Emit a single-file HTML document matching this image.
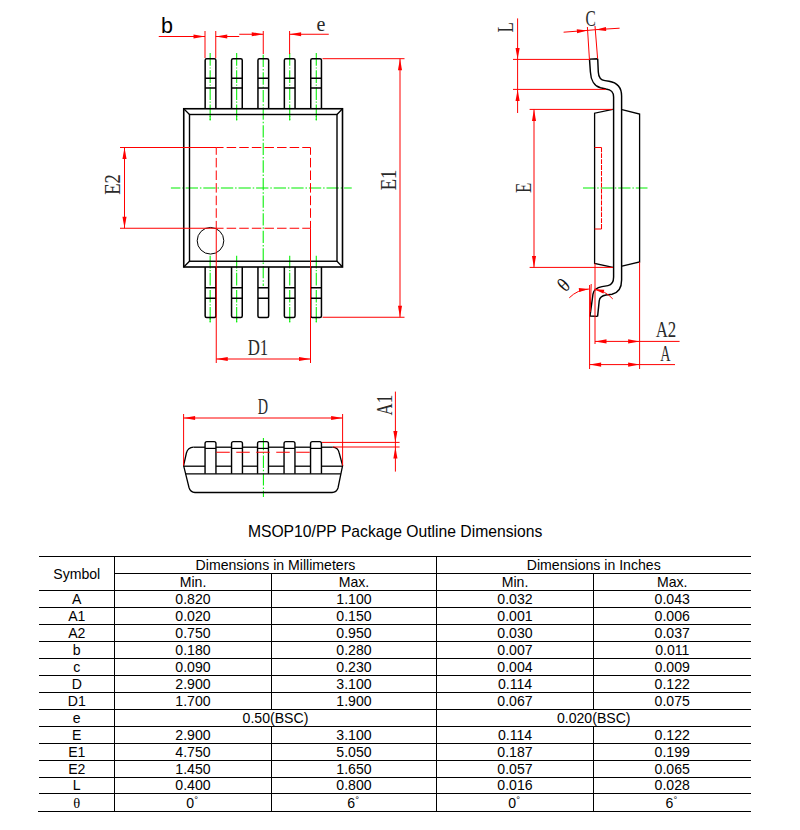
<!DOCTYPE html>
<html><head><meta charset="utf-8"><title>MSOP10/PP Package Outline Dimensions</title>
<style>
html,body{margin:0;padding:0;background:#fff;}
svg{display:block}
.sans{font-family:"Liberation Sans",Arial,sans-serif;fill:#000}
.ser{font-family:"Liberation Serif","Times New Roman",serif;fill:#000}
.cad{font-family:"Liberation Serif","Times New Roman",serif;fill:#2a2a2a}
</style></head><body>
<svg width="800" height="830" viewBox="0 0 800 830">
<rect width="800" height="830" fill="#fff"/>
<g id="topview" fill="none">
<line x1="210.15" y1="53.1" x2="210.15" y2="120.5" stroke="#00ee00" stroke-width="1.05" stroke-dasharray="12.7 1.6 1.2 1.6"/>
<line x1="210.15" y1="116" x2="210.15" y2="120.5" stroke="#00ee00" stroke-width="1.05"/>
<line x1="210.15" y1="255.7" x2="210.15" y2="322.3" stroke="#00ee00" stroke-width="1.05" stroke-dasharray="12.7 1.6 1.2 1.6"/>
<line x1="210.15" y1="318" x2="210.15" y2="322.3" stroke="#00ee00" stroke-width="1.05"/>
<line x1="236.68" y1="53.1" x2="236.68" y2="120.5" stroke="#00ee00" stroke-width="1.05" stroke-dasharray="12.7 1.6 1.2 1.6"/>
<line x1="236.68" y1="116" x2="236.68" y2="120.5" stroke="#00ee00" stroke-width="1.05"/>
<line x1="236.68" y1="255.7" x2="236.68" y2="322.3" stroke="#00ee00" stroke-width="1.05" stroke-dasharray="12.7 1.6 1.2 1.6"/>
<line x1="236.68" y1="318" x2="236.68" y2="322.3" stroke="#00ee00" stroke-width="1.05"/>
<line x1="289.74" y1="53.1" x2="289.74" y2="120.5" stroke="#00ee00" stroke-width="1.05" stroke-dasharray="12.7 1.6 1.2 1.6"/>
<line x1="289.74" y1="116" x2="289.74" y2="120.5" stroke="#00ee00" stroke-width="1.05"/>
<line x1="289.74" y1="255.7" x2="289.74" y2="322.3" stroke="#00ee00" stroke-width="1.05" stroke-dasharray="12.7 1.6 1.2 1.6"/>
<line x1="289.74" y1="318" x2="289.74" y2="322.3" stroke="#00ee00" stroke-width="1.05"/>
<line x1="316.27" y1="53.1" x2="316.27" y2="120.5" stroke="#00ee00" stroke-width="1.05" stroke-dasharray="12.7 1.6 1.2 1.6"/>
<line x1="316.27" y1="116" x2="316.27" y2="120.5" stroke="#00ee00" stroke-width="1.05"/>
<line x1="316.27" y1="255.7" x2="316.27" y2="322.3" stroke="#00ee00" stroke-width="1.05" stroke-dasharray="12.7 1.6 1.2 1.6"/>
<line x1="316.27" y1="318" x2="316.27" y2="322.3" stroke="#00ee00" stroke-width="1.05"/>
<line x1="263.21000000000004" y1="54.75" x2="263.21000000000004" y2="286" stroke="#00ee00" stroke-width="1.05" stroke-dasharray="12.3 1.9 1.5 1.9"/>
<line x1="170.9" y1="188" x2="351.75" y2="188" stroke="#00ee00" stroke-width="1.05" stroke-dasharray="12.3 1.9 1.5 1.9" stroke-dashoffset="2.8"/>
<path d="M205.15 108.75 V60.2 Q205.15 58.75 206.65 58.75 H214.35 Q215.85 58.75 215.85 60.2 V108.75 M205.15 78.25 H215.85 M205.15 88 H215.85" stroke="#000" stroke-width="1.5"/>
<path d="M205.15 267 V316 Q205.15 317.5 206.65 317.5 H214.35 Q215.85 317.5 215.85 316 V267 M205.15 287.75 H215.85 M205.15 298.2 H215.85" stroke="#000" stroke-width="1.5"/>
<path d="M231.55 108.75 V60.2 Q231.55 58.75 233.05 58.75 H240.75 Q242.25 58.75 242.25 60.2 V108.75 M231.55 78.25 H242.25 M231.55 88 H242.25" stroke="#000" stroke-width="1.5"/>
<path d="M231.55 267 V316 Q231.55 317.5 233.05 317.5 H240.75 Q242.25 317.5 242.25 316 V267 M231.55 287.75 H242.25 M231.55 298.2 H242.25" stroke="#000" stroke-width="1.5"/>
<path d="M257.95 108.75 V60.2 Q257.95 58.75 259.45 58.75 H267.15 Q268.65 58.75 268.65 60.2 V108.75 M257.95 78.25 H268.65 M257.95 88 H268.65" stroke="#000" stroke-width="1.5"/>
<path d="M257.95 267 V316 Q257.95 317.5 259.45 317.5 H267.15 Q268.65 317.5 268.65 316 V267 M257.95 287.75 H268.65 M257.95 298.2 H268.65" stroke="#000" stroke-width="1.5"/>
<path d="M284.35 108.75 V60.2 Q284.35 58.75 285.85 58.75 H293.55 Q295.05 58.75 295.05 60.2 V108.75 M284.35 78.25 H295.05 M284.35 88 H295.05" stroke="#000" stroke-width="1.5"/>
<path d="M284.35 267 V316 Q284.35 317.5 285.85 317.5 H293.55 Q295.05 317.5 295.05 316 V267 M284.35 287.75 H295.05 M284.35 298.2 H295.05" stroke="#000" stroke-width="1.5"/>
<path d="M310.75 108.75 V60.2 Q310.75 58.75 312.25 58.75 H319.95 Q321.45 58.75 321.45 60.2 V108.75 M310.75 78.25 H321.45 M310.75 88 H321.45" stroke="#000" stroke-width="1.5"/>
<path d="M310.75 267 V316 Q310.75 317.5 312.25 317.5 H319.95 Q321.45 317.5 321.45 316 V267 M310.75 287.75 H321.45 M310.75 298.2 H321.45" stroke="#000" stroke-width="1.5"/>
<rect x="183.75" y="108.75" width="158.75" height="158.25" stroke="#000" stroke-width="1.6"/>
<rect x="189.5" y="114.5" width="147.5" height="146.75" stroke="#000" stroke-width="1.4"/>
<path d="M183.75 108.75 L189.5 114.5 M342.5 108.75 L337 114.5 M183.75 267 L189.5 261.25 M342.5 267 L337 261.25" stroke="#000" stroke-width="1.3"/>
<circle cx="210.5" cy="240.75" r="13.3" stroke="#000" stroke-width="1"/>
<line x1="120" y1="147.5" x2="216.25" y2="147.5" stroke="#ff0000" stroke-width="1.0"/>
<line x1="216.25" y1="147.5" x2="310.5" y2="147.5" stroke="#ff0000" stroke-width="1" stroke-dasharray="9.5 3.1" stroke-dashoffset="2.2"/>
<line x1="120" y1="228.25" x2="216.25" y2="228.25" stroke="#ff0000" stroke-width="1.0"/>
<line x1="216.25" y1="228.25" x2="310.5" y2="228.25" stroke="#ff0000" stroke-width="1" stroke-dasharray="9.5 3.1" stroke-dashoffset="2.2"/>
<line x1="216.25" y1="147.5" x2="216.25" y2="228.25" stroke="#ff0000" stroke-width="1" stroke-dasharray="9.5 3.1" stroke-dashoffset="2.2"/>
<line x1="310.5" y1="147.5" x2="310.5" y2="228.25" stroke="#ff0000" stroke-width="1" stroke-dasharray="9.5 3.1" stroke-dashoffset="2.2"/>
<line x1="216.25" y1="228.25" x2="216.25" y2="363" stroke="#ff0000" stroke-width="1.0"/>
<line x1="310.5" y1="228.25" x2="310.5" y2="363" stroke="#ff0000" stroke-width="1.0"/>
<line x1="124.5" y1="147.5" x2="124.5" y2="228.25" stroke="#ff0000" stroke-width="1.0"/>
<polygon points="124.50,147.50 126.55,159.00 122.45,159.00" fill="#ff0000"/>
<polygon points="124.50,228.25 122.45,216.75 126.55,216.75" fill="#ff0000"/>
<line x1="216.25" y1="359" x2="310.5" y2="359" stroke="#ff0000" stroke-width="1.0"/>
<polygon points="216.25,359.00 227.75,356.95 227.75,361.05" fill="#ff0000"/>
<polygon points="310.50,359.00 299.00,361.05 299.00,356.95" fill="#ff0000"/>
<line x1="322.5" y1="58.7" x2="404.5" y2="58.7" stroke="#ff0000" stroke-width="1.0"/>
<line x1="322.5" y1="317.25" x2="404.5" y2="317.25" stroke="#ff0000" stroke-width="1.0"/>
<line x1="400" y1="58.7" x2="400" y2="317.25" stroke="#ff0000" stroke-width="1.0"/>
<polygon points="400.00,58.70 402.05,70.20 397.95,70.20" fill="#ff0000"/>
<polygon points="400.00,317.25 397.95,305.75 402.05,305.75" fill="#ff0000"/>
<line x1="205" y1="31" x2="205" y2="58" stroke="#ff0000" stroke-width="1.0"/>
<line x1="215.75" y1="31" x2="215.75" y2="58" stroke="#ff0000" stroke-width="1.0"/>
<line x1="158.75" y1="36.5" x2="205" y2="36.5" stroke="#ff0000" stroke-width="1.0"/>
<polygon points="205.00,36.50 193.50,38.55 193.50,34.45" fill="#ff0000"/>
<line x1="215.75" y1="36.5" x2="239.25" y2="36.5" stroke="#ff0000" stroke-width="1.0"/>
<polygon points="215.75,36.50 227.25,34.45 227.25,38.55" fill="#ff0000"/>
<line x1="263.25" y1="31" x2="263.25" y2="54" stroke="#ff0000" stroke-width="1.0"/>
<line x1="289.6" y1="31" x2="289.6" y2="54" stroke="#ff0000" stroke-width="1.0"/>
<line x1="239.25" y1="34.25" x2="263.25" y2="34.25" stroke="#ff0000" stroke-width="1.0"/>
<polygon points="263.25,34.25 251.75,36.30 251.75,32.20" fill="#ff0000"/>
<line x1="289.6" y1="34.25" x2="328.75" y2="34.25" stroke="#ff0000" stroke-width="1.0"/>
<polygon points="289.60,34.25 301.10,32.20 301.10,36.30" fill="#ff0000"/>
</g>
<text x="161" y="32.5" class="sans" font-size="21.5">b</text>
<text x="321" y="30.5" class="cad" font-size="20" text-anchor="middle">e</text>
<text x="120" y="184.5" class="cad" font-size="23" text-anchor="middle" textLength="20.6" lengthAdjust="spacingAndGlyphs" transform="rotate(-90 120 184.5)">E2</text>
<text x="396" y="180" class="cad" font-size="23" text-anchor="middle" textLength="20.6" lengthAdjust="spacingAndGlyphs" transform="rotate(-90 396 180)">E1</text>
<text x="258" y="355" class="cad" font-size="23" text-anchor="middle" textLength="20.6" lengthAdjust="spacingAndGlyphs">D1</text>
<g id="sideview" fill="none">
<line x1="583" y1="188" x2="647.5" y2="188" stroke="#00ee00" stroke-width="1.05" stroke-dasharray="12.3 1.9 1.5 1.9"/>
<path d="M612.8 109.4 L594.6 113.2 V263.4 L613 267.4 M622 109.6 L639.6 114 V262 L622 266.2" stroke="#000" stroke-width="1.3"/>
<path d="M589.5 59.1 L590.4 72 C590.8 80 594.5 86.3 600.5 87.8 L606 89 C611 89.8 613.6 91.5 613.6 97 V277 C613.6 283 611.5 285 608 285.6 L602 286.6 C596.5 287.6 593.6 290 593 294 L590 316 L597.6 316.4 M589.5 59.1 L597.7 58.8 M597.7 58.8 L598.3 72 C598.5 77 600.2 80 605 80.6 L609 81.2 C617 82.5 621.6 88 621.6 96 V280 C621.6 289 617.5 293 612 294.2 L606 295 C602 295.6 599.6 297.5 599.2 301 L597.6 316.4" stroke="#000" stroke-width="1.45" stroke-linejoin="round"/>
<path d="M594.6 147.4 H601.5 M594.6 229 H601.5" stroke="#ff0000" stroke-width="1.05"/>
<line x1="601.5" y1="147.4" x2="601.5" y2="229" stroke="#ff0000" stroke-width="1.05" stroke-dasharray="4.8 1.1"/>
<line x1="517.6" y1="18.4" x2="517.6" y2="113" stroke="#ff0000" stroke-width="1.0"/>
<polygon points="517.60,59.40 515.55,47.90 519.65,47.90" fill="#ff0000"/>
<polygon points="517.60,89.40 519.65,100.90 515.55,100.90" fill="#ff0000"/>
<line x1="513" y1="59.4" x2="590" y2="59.4" stroke="#ff0000" stroke-width="1.0"/>
<line x1="513" y1="89.4" x2="606" y2="89.4" stroke="#ff0000" stroke-width="1.0"/>
<line x1="529.6" y1="109.4" x2="612.5" y2="109.4" stroke="#ff0000" stroke-width="1.0"/>
<line x1="529.6" y1="267.4" x2="613" y2="267.4" stroke="#ff0000" stroke-width="1.0"/>
<line x1="534" y1="109.4" x2="534" y2="267.4" stroke="#ff0000" stroke-width="1.0"/>
<polygon points="534.00,109.40 536.05,120.90 531.95,120.90" fill="#ff0000"/>
<polygon points="534.00,267.40 531.95,255.90 536.05,255.90" fill="#ff0000"/>
<line x1="563.6" y1="32.2" x2="587.4" y2="30.4" stroke="#ff0000" stroke-width="1.0"/>
<polygon points="587.40,30.40 577.08,33.19 576.78,29.20" fill="#ff0000"/>
<line x1="595.6" y1="29.7" x2="619.6" y2="28.2" stroke="#ff0000" stroke-width="1.0"/>
<polygon points="595.60,29.70 605.94,27.01 606.21,31.00" fill="#ff0000"/>
<line x1="587.4" y1="30.4" x2="595.6" y2="29.7" stroke="#ff0000" stroke-width="1.0"/>
<line x1="587.4" y1="27" x2="589.4" y2="59" stroke="#ff0000" stroke-width="1.0"/>
<line x1="595" y1="26" x2="597.6" y2="58.5" stroke="#ff0000" stroke-width="1.0"/>
<line x1="595" y1="263.4" x2="595" y2="344" stroke="#ff0000" stroke-width="1.0"/>
<line x1="639.6" y1="262" x2="639.6" y2="369" stroke="#ff0000" stroke-width="1.0"/>
<line x1="589.6" y1="285" x2="589.6" y2="369" stroke="#ff0000" stroke-width="1.0"/>
<line x1="595" y1="341.4" x2="679.6" y2="341.4" stroke="#ff0000" stroke-width="1.0"/>
<polygon points="595.00,341.40 606.50,339.35 606.50,343.45" fill="#ff0000"/>
<polygon points="639.60,341.40 628.10,343.45 628.10,339.35" fill="#ff0000"/>
<line x1="589.6" y1="364.6" x2="675" y2="364.6" stroke="#ff0000" stroke-width="1.0"/>
<polygon points="589.60,364.60 601.10,362.55 601.10,366.65" fill="#ff0000"/>
<polygon points="639.60,364.60 628.10,366.65 628.10,362.55" fill="#ff0000"/>
<path d="M569.29 297.79 A30 30 0 0 1 588.93 289.04" stroke="#ff0000" stroke-width="1"/>
<polygon points="588.93,289.04 579.18,292.03 578.78,288.05" fill="#ff0000"/>
<path d="M594.16 289.22 A30 30 0 0 1 612.79 298.93" stroke="#ff0000" stroke-width="1"/>
<polygon points="594.16,289.22 604.34,289.71 603.37,293.59" fill="#ff0000"/>
<line x1="591.2" y1="284" x2="590.2" y2="312" stroke="#ff0000" stroke-width="1.0"/>
</g>
<text x="512.8" y="27.3" class="cad" font-size="23" text-anchor="middle" textLength="10.3" lengthAdjust="spacingAndGlyphs" transform="rotate(-90 512.8 27.3)">L</text>
<text x="590.6" y="26.4" class="cad" font-size="23" text-anchor="middle" textLength="10.3" lengthAdjust="spacingAndGlyphs">C</text>
<text x="530.5" y="187.75" class="cad" font-size="23" text-anchor="middle" textLength="10.3" lengthAdjust="spacingAndGlyphs" transform="rotate(-90 530.5 187.75)">E</text>
<text x="666" y="337.3" class="cad" font-size="23" text-anchor="middle" textLength="20.6" lengthAdjust="spacingAndGlyphs">A2</text>
<text x="665.3" y="360.7" class="cad" font-size="23" text-anchor="middle" textLength="10.3" lengthAdjust="spacingAndGlyphs">A</text>
<text x="563.5" y="291.6" class="cad" font-size="20" text-anchor="middle" textLength="8.6" lengthAdjust="spacingAndGlyphs" transform="rotate(-45 563.5 284.8)" style="fill:#111">θ</text>
<g id="botview" fill="none">
<line x1="263.4" y1="438" x2="263.4" y2="497" stroke="#00ee00" stroke-width="1.05" stroke-dasharray="12.3 1.9 1.5 1.9"/>
<path d="M332.8 447.2 C337 447.4 338.6 450 339.2 453 L342.6 465.6 L338 488 C337 491 335.5 492.4 332 492.5 H195 C191.5 492.4 190 491 189 487.5 L183.6 465.6 L186.4 453 C187.2 450 189 447.4 193.5 447.2" stroke="#000" stroke-width="1.3"/>
<line x1="185.5" y1="473.8" x2="340.8" y2="473.8" stroke="#000" stroke-width="1.3"/>
<path d="M205.05 473.8 V443.4 Q205.05 441.6 206.85 441.6 H214.15 Q215.95 441.6 215.95 443.4 V473.8" stroke="#000" stroke-width="1.4"/>
<line x1="205.05" y1="448.4" x2="215.95" y2="448.4" stroke="#000" stroke-width="1.2"/>
<line x1="193.5" y1="447.2" x2="205.05" y2="447.2" stroke="#000" stroke-width="1.3"/>
<line x1="183.6" y1="466.2" x2="205.05" y2="466.2" stroke="#000" stroke-width="1.3"/>
<path d="M231.55 473.8 V443.4 Q231.55 441.6 233.35 441.6 H240.65 Q242.45 441.6 242.45 443.4 V473.8" stroke="#000" stroke-width="1.4"/>
<line x1="231.55" y1="448.4" x2="242.45" y2="448.4" stroke="#000" stroke-width="1.2"/>
<line x1="215.95" y1="447.2" x2="231.55" y2="447.2" stroke="#000" stroke-width="1.3"/>
<line x1="215.95" y1="466.2" x2="231.55" y2="466.2" stroke="#000" stroke-width="1.3"/>
<path d="M257.55 473.8 V443.4 Q257.55 441.6 259.35 441.6 H266.65 Q268.45 441.6 268.45 443.4 V473.8" stroke="#000" stroke-width="1.4"/>
<line x1="257.55" y1="448.4" x2="268.45" y2="448.4" stroke="#000" stroke-width="1.2"/>
<line x1="242.45" y1="447.2" x2="257.55" y2="447.2" stroke="#000" stroke-width="1.3"/>
<line x1="242.45" y1="466.2" x2="257.55" y2="466.2" stroke="#000" stroke-width="1.3"/>
<path d="M284.05 473.8 V443.4 Q284.05 441.6 285.85 441.6 H293.15 Q294.95 441.6 294.95 443.4 V473.8" stroke="#000" stroke-width="1.4"/>
<line x1="284.05" y1="448.4" x2="294.95" y2="448.4" stroke="#000" stroke-width="1.2"/>
<line x1="268.45" y1="447.2" x2="284.05" y2="447.2" stroke="#000" stroke-width="1.3"/>
<line x1="268.45" y1="466.2" x2="284.05" y2="466.2" stroke="#000" stroke-width="1.3"/>
<path d="M310.55 473.8 V443.4 Q310.55 441.6 312.35 441.6 H319.65 Q321.45 441.6 321.45 443.4 V473.8" stroke="#000" stroke-width="1.4"/>
<line x1="310.55" y1="448.4" x2="321.45" y2="448.4" stroke="#000" stroke-width="1.2"/>
<line x1="294.95" y1="447.2" x2="310.55" y2="447.2" stroke="#000" stroke-width="1.3"/>
<line x1="294.95" y1="466.2" x2="310.55" y2="466.2" stroke="#000" stroke-width="1.3"/>
<line x1="321.45" y1="466.2" x2="342.6" y2="466.2" stroke="#000" stroke-width="1.3"/>
<line x1="321.45" y1="447.2" x2="332.8" y2="447.2" stroke="#000" stroke-width="1.3"/>
<line x1="216.25" y1="452.3" x2="310.5" y2="452.3" stroke="#ff0000" stroke-width="1.05" stroke-dasharray="13.5 6.5"/>
<line x1="183.6" y1="414" x2="183.6" y2="465.6" stroke="#ff0000" stroke-width="1.0"/>
<line x1="342.6" y1="414" x2="342.6" y2="465.6" stroke="#ff0000" stroke-width="1.0"/>
<line x1="183.6" y1="418" x2="342.6" y2="418" stroke="#ff0000" stroke-width="1.0"/>
<polygon points="183.60,418.00 195.10,415.95 195.10,420.05" fill="#ff0000"/>
<polygon points="342.60,418.00 331.10,420.05 331.10,415.95" fill="#ff0000"/>
<line x1="322" y1="442.4" x2="399.6" y2="442.4" stroke="#ff0000" stroke-width="1.0"/>
<line x1="333" y1="447" x2="399.6" y2="447" stroke="#ff0000" stroke-width="1.0"/>
<line x1="395.4" y1="391.6" x2="395.4" y2="471.6" stroke="#ff0000" stroke-width="1.0"/>
<polygon points="395.40,442.40 393.35,430.90 397.45,430.90" fill="#ff0000"/>
<polygon points="395.40,447.00 397.45,458.50 393.35,458.50" fill="#ff0000"/>
</g>
<text x="263" y="413.7" class="cad" font-size="23" text-anchor="middle" textLength="10.3" lengthAdjust="spacingAndGlyphs">D</text>
<text x="391.6" y="405.2" class="cad" font-size="23" text-anchor="middle" textLength="20.6" lengthAdjust="spacingAndGlyphs" transform="rotate(-90 391.6 405.2)">A1</text>
<text x="395.1" y="537" class="sans" font-size="15.7" text-anchor="middle">MSOP10/PP Package Outline Dimensions</text>
<g id="table" stroke="#000" stroke-width="1" fill="none" shape-rendering="crispEdges">
<line x1="39" y1="556.5" x2="751" y2="556.5"/>
<line x1="114.5" y1="573.5" x2="751" y2="573.5"/>
<line x1="39" y1="590.5" x2="751" y2="590.5"/>
<line x1="39" y1="607.5" x2="751" y2="607.5"/>
<line x1="39" y1="624.5" x2="751" y2="624.5"/>
<line x1="39" y1="641.5" x2="751" y2="641.5"/>
<line x1="39" y1="658.5" x2="751" y2="658.5"/>
<line x1="39" y1="675.5" x2="751" y2="675.5"/>
<line x1="39" y1="692.5" x2="751" y2="692.5"/>
<line x1="39" y1="709.5" x2="751" y2="709.5"/>
<line x1="39" y1="726.5" x2="751" y2="726.5"/>
<line x1="39" y1="743.5" x2="751" y2="743.5"/>
<line x1="39" y1="760.5" x2="751" y2="760.5"/>
<line x1="39" y1="777.5" x2="751" y2="777.5"/>
<line x1="39" y1="793.5" x2="751" y2="793.5"/>
<line x1="38" y1="811.5" x2="751" y2="811.5"/>
<line x1="114.5" y1="556.5" x2="114.5" y2="811.5"/>
<line x1="436.5" y1="556.5" x2="436.5" y2="811.5"/>
<line x1="271.5" y1="573.5" x2="271.5" y2="709.5"/>
<line x1="271.5" y1="726.5" x2="271.5" y2="811.5"/>
<line x1="593.5" y1="573.5" x2="593.5" y2="709.5"/>
<line x1="593.5" y1="726.5" x2="593.5" y2="811.5"/>
</g>
<text x="76.75" y="578.80" class="sans" font-size="14.1" text-anchor="middle">Symbol</text>
<text x="275.50" y="569.70" class="sans" font-size="14.1" text-anchor="middle">Dimensions in Millimeters</text>
<text x="593.75" y="569.70" class="sans" font-size="14.1" text-anchor="middle">Dimensions in Inches</text>
<text x="193.00" y="586.60" class="sans" font-size="14.1" text-anchor="middle">Min.</text>
<text x="354.00" y="586.60" class="sans" font-size="14.1" text-anchor="middle">Max.</text>
<text x="515.00" y="586.60" class="sans" font-size="14.1" text-anchor="middle">Min.</text>
<text x="672.25" y="586.60" class="sans" font-size="14.1" text-anchor="middle">Max.</text>
<text x="76.75" y="603.50" class="sans" font-size="14.1" text-anchor="middle">A</text>
<text x="193.00" y="603.50" class="sans" font-size="14.1" text-anchor="middle">0.820</text>
<text x="354.00" y="603.50" class="sans" font-size="14.1" text-anchor="middle">1.100</text>
<text x="515.00" y="603.50" class="sans" font-size="14.1" text-anchor="middle">0.032</text>
<text x="672.25" y="603.50" class="sans" font-size="14.1" text-anchor="middle">0.043</text>
<text x="76.75" y="620.50" class="sans" font-size="14.1" text-anchor="middle">A1</text>
<text x="193.00" y="620.50" class="sans" font-size="14.1" text-anchor="middle">0.020</text>
<text x="354.00" y="620.50" class="sans" font-size="14.1" text-anchor="middle">0.150</text>
<text x="515.00" y="620.50" class="sans" font-size="14.1" text-anchor="middle">0.001</text>
<text x="672.25" y="620.50" class="sans" font-size="14.1" text-anchor="middle">0.006</text>
<text x="76.75" y="637.50" class="sans" font-size="14.1" text-anchor="middle">A2</text>
<text x="193.00" y="637.50" class="sans" font-size="14.1" text-anchor="middle">0.750</text>
<text x="354.00" y="637.50" class="sans" font-size="14.1" text-anchor="middle">0.950</text>
<text x="515.00" y="637.50" class="sans" font-size="14.1" text-anchor="middle">0.030</text>
<text x="672.25" y="637.50" class="sans" font-size="14.1" text-anchor="middle">0.037</text>
<text x="76.75" y="654.50" class="sans" font-size="14.1" text-anchor="middle">b</text>
<text x="193.00" y="654.50" class="sans" font-size="14.1" text-anchor="middle">0.180</text>
<text x="354.00" y="654.50" class="sans" font-size="14.1" text-anchor="middle">0.280</text>
<text x="515.00" y="654.50" class="sans" font-size="14.1" text-anchor="middle">0.007</text>
<text x="672.25" y="654.50" class="sans" font-size="14.1" text-anchor="middle">0.011</text>
<text x="76.75" y="671.50" class="sans" font-size="14.1" text-anchor="middle">c</text>
<text x="193.00" y="671.50" class="sans" font-size="14.1" text-anchor="middle">0.090</text>
<text x="354.00" y="671.50" class="sans" font-size="14.1" text-anchor="middle">0.230</text>
<text x="515.00" y="671.50" class="sans" font-size="14.1" text-anchor="middle">0.004</text>
<text x="672.25" y="671.50" class="sans" font-size="14.1" text-anchor="middle">0.009</text>
<text x="76.75" y="688.50" class="sans" font-size="14.1" text-anchor="middle">D</text>
<text x="193.00" y="688.50" class="sans" font-size="14.1" text-anchor="middle">2.900</text>
<text x="354.00" y="688.50" class="sans" font-size="14.1" text-anchor="middle">3.100</text>
<text x="515.00" y="688.50" class="sans" font-size="14.1" text-anchor="middle">0.114</text>
<text x="672.25" y="688.50" class="sans" font-size="14.1" text-anchor="middle">0.122</text>
<text x="76.75" y="705.50" class="sans" font-size="14.1" text-anchor="middle">D1</text>
<text x="193.00" y="705.50" class="sans" font-size="14.1" text-anchor="middle">1.700</text>
<text x="354.00" y="705.50" class="sans" font-size="14.1" text-anchor="middle">1.900</text>
<text x="515.00" y="705.50" class="sans" font-size="14.1" text-anchor="middle">0.067</text>
<text x="672.25" y="705.50" class="sans" font-size="14.1" text-anchor="middle">0.075</text>
<text x="76.75" y="722.50" class="sans" font-size="14.1" text-anchor="middle">e</text>
<text x="275.50" y="722.50" class="sans" font-size="14.1" text-anchor="middle">0.50(BSC)</text>
<text x="593.75" y="722.50" class="sans" font-size="14.1" text-anchor="middle">0.020(BSC)</text>
<text x="76.75" y="739.50" class="sans" font-size="14.1" text-anchor="middle">E</text>
<text x="193.00" y="739.50" class="sans" font-size="14.1" text-anchor="middle">2.900</text>
<text x="354.00" y="739.50" class="sans" font-size="14.1" text-anchor="middle">3.100</text>
<text x="515.00" y="739.50" class="sans" font-size="14.1" text-anchor="middle">0.114</text>
<text x="672.25" y="739.50" class="sans" font-size="14.1" text-anchor="middle">0.122</text>
<text x="76.75" y="756.50" class="sans" font-size="14.1" text-anchor="middle">E1</text>
<text x="193.00" y="756.50" class="sans" font-size="14.1" text-anchor="middle">4.750</text>
<text x="354.00" y="756.50" class="sans" font-size="14.1" text-anchor="middle">5.050</text>
<text x="515.00" y="756.50" class="sans" font-size="14.1" text-anchor="middle">0.187</text>
<text x="672.25" y="756.50" class="sans" font-size="14.1" text-anchor="middle">0.199</text>
<text x="76.75" y="773.50" class="sans" font-size="14.1" text-anchor="middle">E2</text>
<text x="193.00" y="773.50" class="sans" font-size="14.1" text-anchor="middle">1.450</text>
<text x="354.00" y="773.50" class="sans" font-size="14.1" text-anchor="middle">1.650</text>
<text x="515.00" y="773.50" class="sans" font-size="14.1" text-anchor="middle">0.057</text>
<text x="672.25" y="773.50" class="sans" font-size="14.1" text-anchor="middle">0.065</text>
<text x="76.75" y="789.80" class="sans" font-size="14.1" text-anchor="middle">L</text>
<text x="193.00" y="789.80" class="sans" font-size="14.1" text-anchor="middle">0.400</text>
<text x="354.00" y="789.80" class="sans" font-size="14.1" text-anchor="middle">0.800</text>
<text x="515.00" y="789.80" class="sans" font-size="14.1" text-anchor="middle">0.016</text>
<text x="672.25" y="789.80" class="sans" font-size="14.1" text-anchor="middle">0.028</text>
<text x="76.75" y="808.10" class="ser" font-size="14.5" text-anchor="middle">θ</text>
<text x="192.20" y="808.00" class="sans" font-size="14.1" text-anchor="middle">0<tspan font-size="9.5" dy="-5.4">°</tspan></text>
<text x="353.20" y="808.00" class="sans" font-size="14.1" text-anchor="middle">6<tspan font-size="9.5" dy="-5.4">°</tspan></text>
<text x="514.20" y="808.00" class="sans" font-size="14.1" text-anchor="middle">0<tspan font-size="9.5" dy="-5.4">°</tspan></text>
<text x="671.45" y="808.00" class="sans" font-size="14.1" text-anchor="middle">6<tspan font-size="9.5" dy="-5.4">°</tspan></text>
</svg>
</body></html>
